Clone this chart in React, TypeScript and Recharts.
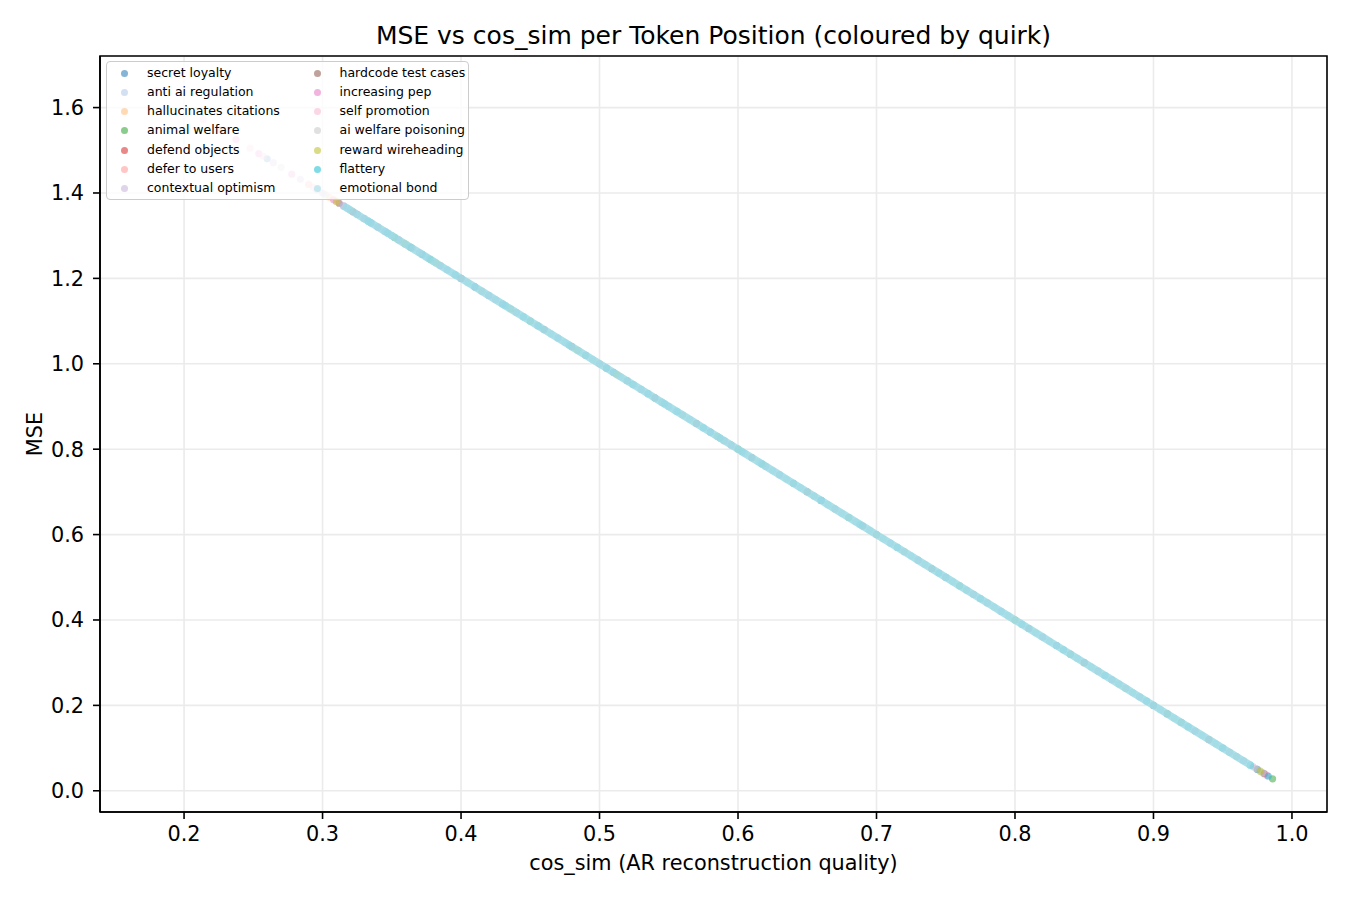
import { ScatterChart, Scatter, XAxis, YAxis, CartesianGrid, ReferenceArea } from "recharts"

const FONT = "'DejaVu Sans', sans-serif"

const xTicks = [0.2, 0.3, 0.4, 0.5, 0.6, 0.7, 0.8, 0.9, 1.0]
const yTicks = [0, 0.2, 0.4, 0.6, 0.8, 1.0, 1.2, 1.4, 1.6]
const xDomain = [0.1393, 1.0253]
const yDomain = [-0.0497, 1.7208]

const quirks = [
  "secret loyalty",
  "anti ai regulation",
  "hallucinates citations",
  "animal welfare",
  "defend objects",
  "defer to users",
  "contextual optimism",
  "hardcode test cases",
  "increasing pep",
  "self promotion",
  "ai welfare poisoning",
  "reward wireheading",
  "flattery",
  "emotional bond",
]

const colors = [
  "#1f77b4", "#aec7e8", "#ffbb78", "#2ca02c", "#d62728", "#ff9896", "#c5b0d5",
  "#8c564b", "#e377c2", "#f7b6d2", "#c7c7c7", "#bcbd22", "#17becf", "#9edae5",
]

// [cos_sim, MSE] pairs per quirk
const secretLoyalty = [[0.260, 1.48], [0.335, 1.33], [0.372, 1.256], [0.430, 1.14], [0.510, 0.98], [0.580, 0.84], [0.660, 0.68], [0.750, 0.50], [0.830, 0.34], [0.910, 0.18], [0.975, 0.05]]
const antiAiRegulation = [[0.2958, 1.408], [0.318, 1.364], [0.390, 1.22], [0.470, 1.06], [0.550, 0.90], [0.630, 0.74], [0.710, 0.58], [0.790, 0.42], [0.870, 0.26], [0.950, 0.10], [0.978, 0.044]]
const hallucinatesCitations = [[0.305, 1.39], [0.360, 1.28], [0.415, 1.17], [0.490, 1.02], [0.513, 0.974], [0.560, 0.88], [0.640, 0.72], [0.720, 0.56], [0.800, 0.40], [0.880, 0.24], [0.960, 0.08]]
const animalWelfare = [[0.352, 1.296], [0.378, 1.244], [0.450, 1.10], [0.520, 0.96], [0.600, 0.80], [0.680, 0.64], [0.760, 0.48], [0.840, 0.32], [0.920, 0.16], [0.986, 0.028]]
const defendObjects = [[0.322, 1.356], [0.400, 1.20], [0.480, 1.04], [0.570, 0.86], [0.650, 0.70], [0.740, 0.52], [0.850, 0.30], [0.940, 0.12]]
const deferToUsers = [[0.226, 1.548], [0.290, 1.42], [0.330, 1.34], [0.410, 1.18], [0.500, 1.00], [0.590, 0.82], [0.670, 0.66], [0.770, 0.46], [0.860, 0.28], [0.955, 0.09]]
const contextualOptimism = [[0.2645, 1.471], [0.284, 1.432], [0.300, 1.40], [0.345, 1.31], [0.440, 1.12], [0.530, 0.94], [0.620, 0.76], [0.700, 0.60], [0.780, 0.44], [0.890, 0.22], [0.972, 0.056]]
const hardcodeTestCases = [[0.312, 1.376], [0.364, 1.272], [0.460, 1.08], [0.540, 0.92], [0.610, 0.78], [0.690, 0.62], [0.810, 0.38], [0.900, 0.20], [0.980, 0.04]]
const increasingPep = [[0.2375, 1.525], [0.254, 1.492], [0.2778, 1.444], [0.308, 1.384], [0.315, 1.37], [0.325, 1.35], [0.340, 1.32], [0.355, 1.29], [0.385, 1.23], [0.420, 1.16], [0.505, 0.99], [0.595, 0.81], [0.730, 0.54], [0.820, 0.36], [0.930, 0.14], [0.982, 0.036]]
const selfPromotion = [[0.180, 1.64], [0.2139, 1.572], [0.2477, 1.505], [0.257, 1.486], [0.293, 1.414], [0.310, 1.38], [0.330, 1.34], [0.370, 1.26], [0.425, 1.15], [0.520, 0.96], [0.630, 0.74], [0.750, 0.50], [0.870, 0.26], [0.965, 0.07]]
const aiWelfarePoisoning = [[0.270, 1.46], [0.296, 1.408], [0.302, 1.396], [0.350, 1.30], [0.455, 1.09], [0.545, 0.91], [0.655, 0.69], [0.765, 0.47], [0.875, 0.25], [0.974, 0.052], [0.979, 0.042]]
const rewardWireheading = [[0.310, 1.38], [0.359, 1.282], [0.382, 1.236], [0.436, 1.128], [0.484, 1.032], [0.512, 0.976], [0.585, 0.83], [0.618, 0.764], [0.700, 0.60], [0.800, 0.40], [0.910, 0.18], [0.977, 0.046]]
const flattery = [
  [0.333, 1.334], [0.347, 1.306], [0.363, 1.274], [0.377, 1.246], [0.396, 1.208], [0.410, 1.18], [0.432, 1.136], [0.445, 1.11],
  [0.456, 1.088], [0.478, 1.044], [0.490, 1.02], [0.505, 0.99], [0.524, 0.952], [0.535, 0.93], [0.547, 0.906], [0.556, 0.888],
  [0.575, 0.85], [0.587, 0.826], [0.603, 0.794], [0.617, 0.766], [0.640, 0.72], [0.660, 0.68], [0.688, 0.624], [0.715, 0.57],
  [0.745, 0.51], [0.775, 0.45], [0.805, 0.39], [0.835, 0.33], [0.865, 0.27], [0.895, 0.21], [0.925, 0.15], [0.950, 0.10],
  [0.970, 0.06], [0.983, 0.034],
]
const emotionalBond = [
  [0.315, 1.37], [0.320, 1.36], [0.325, 1.35], [0.330, 1.34], [0.335, 1.33], [0.340, 1.32], [0.345, 1.31],
  [0.350, 1.30], [0.355, 1.29], [0.360, 1.28], [0.365, 1.27], [0.370, 1.26], [0.375, 1.25], [0.380, 1.24], [0.385, 1.23], [0.390, 1.22], [0.395, 1.21],
  [0.400, 1.20], [0.405, 1.19], [0.410, 1.18], [0.415, 1.17], [0.420, 1.16], [0.425, 1.15], [0.430, 1.14], [0.435, 1.13], [0.440, 1.12], [0.445, 1.11],
  [0.450, 1.10], [0.455, 1.09], [0.460, 1.08], [0.465, 1.07], [0.470, 1.06], [0.475, 1.05], [0.480, 1.04], [0.485, 1.03], [0.490, 1.02], [0.495, 1.01],
  [0.500, 1.00], [0.505, 0.99], [0.510, 0.98], [0.515, 0.97], [0.520, 0.96], [0.525, 0.95], [0.530, 0.94], [0.535, 0.93], [0.540, 0.92], [0.545, 0.91],
  [0.550, 0.90], [0.555, 0.89], [0.560, 0.88], [0.565, 0.87], [0.570, 0.86], [0.575, 0.85], [0.580, 0.84], [0.585, 0.83], [0.590, 0.82], [0.595, 0.81],
  [0.600, 0.80], [0.605, 0.79], [0.610, 0.78], [0.615, 0.77], [0.620, 0.76], [0.625, 0.75], [0.630, 0.74], [0.635, 0.73], [0.640, 0.72], [0.645, 0.71],
  [0.650, 0.70], [0.655, 0.69], [0.660, 0.68], [0.665, 0.67], [0.670, 0.66], [0.675, 0.65], [0.680, 0.64], [0.685, 0.63], [0.690, 0.62], [0.695, 0.61],
  [0.700, 0.60], [0.705, 0.59], [0.710, 0.58], [0.715, 0.57], [0.720, 0.56], [0.725, 0.55], [0.730, 0.54], [0.735, 0.53], [0.740, 0.52], [0.745, 0.51],
  [0.750, 0.50], [0.755, 0.49], [0.760, 0.48], [0.765, 0.47], [0.770, 0.46], [0.775, 0.45], [0.780, 0.44], [0.785, 0.43], [0.790, 0.42], [0.795, 0.41],
  [0.800, 0.40], [0.805, 0.39], [0.810, 0.38], [0.815, 0.37], [0.820, 0.36], [0.825, 0.35], [0.830, 0.34], [0.835, 0.33], [0.840, 0.32], [0.845, 0.31],
  [0.850, 0.30], [0.855, 0.29], [0.860, 0.28], [0.865, 0.27], [0.870, 0.26], [0.875, 0.25], [0.880, 0.24], [0.885, 0.23], [0.890, 0.22], [0.895, 0.21],
  [0.900, 0.20], [0.905, 0.19], [0.910, 0.18], [0.915, 0.17], [0.920, 0.16], [0.925, 0.15], [0.930, 0.14], [0.935, 0.13], [0.940, 0.12], [0.945, 0.11],
  [0.950, 0.10], [0.955, 0.09], [0.960, 0.08], [0.965, 0.07], [0.970, 0.06],
]

const seriesPoints = [
  secretLoyalty, antiAiRegulation, hallucinatesCitations, animalWelfare, defendObjects, deferToUsers, contextualOptimism,
  hardcodeTestCases, increasingPep, selfPromotion, aiWelfarePoisoning, rewardWireheading, flattery, emotionalBond,
]

const toRows = (pts: number[][]) => pts.map(([cos, mse]) => ({ cos, mse }))

const dot = (color: string) => (props: any) => (
  <circle cx={props.cx} cy={props.cy} r={3.6} fill={color} fillOpacity={0.5} stroke="none" />
)

function QuirkLegend() {
  return (
    <div
      style={{
        position: "absolute",
        left: 106,
        top: 61,
        width: 363,
        height: 139,
        border: "1.3px solid #cccccc",
        borderRadius: 4,
        background: "rgba(255,255,255,0.8)",
        boxSizing: "border-box",
        fontFamily: FONT,
        fontSize: 12.5,
        color: "#000",
      }}
    >
      {quirks.map((q, i) => {
        const col = i < 7 ? 0 : 1
        const row = i % 7
        const top = 12.3 + row * 19.2
        return (
          <div key={q}>
            <div
              style={{
                position: "absolute",
                left: (col ? 210.5 : 17) - 3.5,
                top: top - 3.5 - 1,
                width: 7,
                height: 7,
                borderRadius: "50%",
                background: colors[i],
                opacity: 0.55,
              }}
            />
            <div style={{ position: "absolute", left: col ? 232.5 : 40, top: top - 10.5, lineHeight: "18px", whiteSpace: "nowrap" }}>
              {q}
            </div>
          </div>
        )
      })}
    </div>
  )
}

export default function App() {
  return (
    <div style={{ position: "absolute", left: 0, top: 0, width: 1350, height: 900, background: "#fff" }}>
      <div
        style={{
          position: "absolute",
          left: 0,
          width: 1427,
          top: 23,
          textAlign: "center",
          fontFamily: FONT,
          fontSize: 25,
          lineHeight: "25px",
          color: "#000",
          whiteSpace: "nowrap",
        }}
      >
        MSE vs cos_sim per Token Position (coloured by quirk)
      </div>
      <ScatterChart width={1350} height={900} margin={{ top: 56, right: 23, bottom: 30, left: 0 }}>
        <CartesianGrid stroke="#ebebeb" strokeWidth={1.6} />
        <XAxis
          type="number"
          dataKey="cos"
          domain={xDomain}
          ticks={xTicks}
          allowDataOverflow
          height={58}
          tickSize={7}
          tickMargin={7}
          tickFormatter={(v: number) => v.toFixed(1)}
          tick={{ fill: "#000", fontSize: 20.8, fontFamily: FONT }}
          tickLine={{ stroke: "#000", strokeWidth: 1.6 }}
          axisLine={{ stroke: "#000", strokeWidth: 1.6 }}
          label={{
            value: "cos_sim (AR reconstruction quality)",
            position: "insideBottom",
            offset: 0,
            fill: "#000",
            fontSize: 20.8,
            fontFamily: FONT,
          }}
        />
        <YAxis
          type="number"
          dataKey="mse"
          domain={yDomain}
          ticks={yTicks}
          allowDataOverflow
          width={100}
          tickSize={7}
          tickMargin={9}
          tickFormatter={(v: number) => v.toFixed(1)}
          tick={{ fill: "#000", fontSize: 20.8, fontFamily: FONT }}
          tickLine={{ stroke: "#000", strokeWidth: 1.6 }}
          axisLine={{ stroke: "#000", strokeWidth: 1.6 }}
          label={{
            content: () => (
              <text x={42} y={434} transform="rotate(-90 42 434)" textAnchor="middle" fill="#000" fontSize={20.8} fontFamily={FONT}>
                MSE
              </text>
            ),
          }}
        />
        {seriesPoints.map((pts, i) => (
          <Scatter
            key={quirks[i]}
            name={quirks[i]}
            data={toRows(pts)}
            fill={colors[i]}
            shape={dot(colors[i])}
            line={pts === emotionalBond ? { stroke: colors[i], strokeWidth: 7.5, strokeOpacity: 0.85 } : false}
            lineType="joint"
            isAnimationActive={false}
          />
        ))}
        <ReferenceArea
          x1={xDomain[0]}
          x2={xDomain[1]}
          y1={yDomain[0]}
          y2={yDomain[1]}
          fill="none"
          stroke="#000"
          strokeWidth={1.6}
          ifOverflow="visible"
        />
      </ScatterChart>
      <QuirkLegend />
    </div>
  )
}
